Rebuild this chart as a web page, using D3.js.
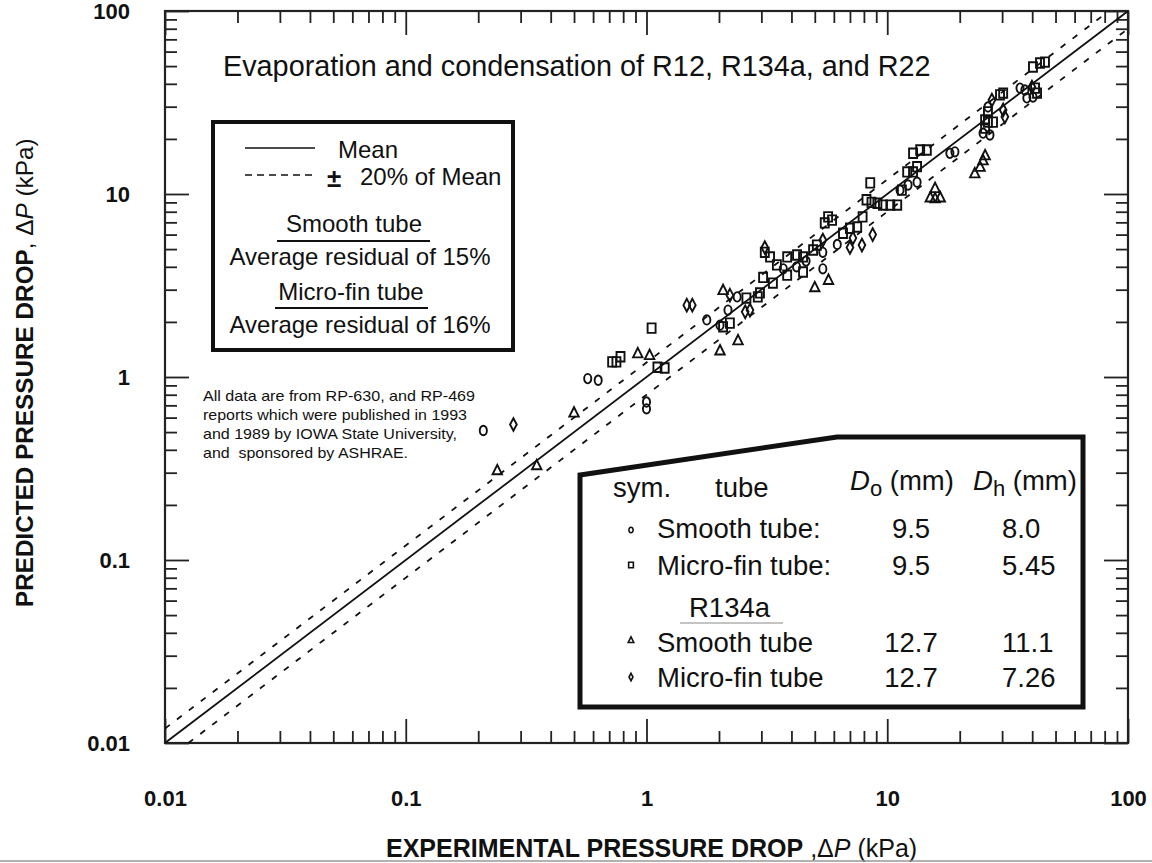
<!DOCTYPE html>
<html><head><meta charset="utf-8">
<script src="https://cdn.jsdelivr.net/npm/d3@7"></script>
<style>
body{margin:0;background:#fff}
text{font-family:"Liberation Sans",Arial,Helvetica,sans-serif;fill:#111}
</style>
</head><body>
<svg id="c" width="1152" height="863"></svg>
<script>
// ---------- data ----------
const decadeTicks = [0.01, 0.1, 1, 10, 100];
const tickLabels = ["0.01", "0.1", "1", "10", "100"];
const minorMultipliers = [2, 3, 4, 5, 6, 7, 8, 9];

// [experimental, predicted] in kPa
const smoothTube = [
  [0.21,0.51],[0.57,0.98],[0.63,0.96],[1.0,0.73],[1.0,0.67],[1.78,2.05],[2.02,1.92],
  [2.18,2.32],[2.38,2.74],[3.7,3.9],[4.2,4.0],[4.6,4.3],[5.4,4.8],[5.4,3.9],[6.2,5.3],
  [11.3,10.5],[12.2,11.2],[13.3,11.6],[18.2,16.7],[19.1,17.0],[26.2,29.9],[25,21.5],
  [26.7,21],[35.6,37.9],[37.3,37],[38,33.5],[40.3,33.9]
];
const microFinTube = [
  [0.72,1.21],[0.75,1.21],[0.78,1.29],[1.05,1.85],[1.11,1.13],[1.19,1.12],[2.08,1.88],
  [2.22,1.97],[2.6,2.7],[2.9,2.74],[2.96,2.88],[3.05,3.5],[3.35,3.26],[3.84,3.6],
  [3.1,4.8],[3.26,4.53],[3.48,4.1],[3.84,4.53],[4.22,4.64],[4.47,4.53],[4.47,3.75],
  [4.92,4.94],[5.1,5.26],[5.5,6.95],[5.68,7.5],[5.9,7.2],[6.55,6.1],[7.0,6.5],[7.5,6.6],
  [7.9,7.5],[8.2,9.3],[8.6,9.0],[9.1,8.9],[9.6,8.7],[10.3,8.7],[11.0,8.7],[8.5,11.5],
  [11.5,10.5],[12.1,13.2],[12.8,13.2],[13.3,14.1],[12.8,16.7],[13.7,17.4],[14.6,17.4],
  [25.5,25.4],[26.2,24.7],[27.5,24.7],[25.5,22.9],[26.2,28.1],[29.4,34.8],[30.3,35.6],
  [41.1,37.9],[41.9,35.6],[40.3,49.4],[43.1,52],[45.2,52.6]
];
const r134aSmooth = [
  [0.24,0.31],[0.35,0.33],[0.50,0.64],[0.92,1.35],[1.03,1.32],[2.08,2.99],[2.02,1.40],
  [2.40,1.59],[5.0,3.1],[5.7,3.4],[15.8,9.5],[15.8,10.8],[15.1,9.6],[16.6,9.6],
  [23.1,13.0],[24.3,14.1],[25,15.3],[25.5,16.3]
];
const r134aMicroFin = [
  [0.28,0.55],[1.47,2.47],[1.55,2.47],[2.22,2.8],[2.57,2.27],[2.69,2.32],[3.1,5.1],
  [5.4,5.6],[7.2,5.75],[7.0,5.1],[7.85,5.26],[8.7,6.0],[30.3,28.8],[30.8,26.4],
  [27.2,32.6],[39.9,38.4]
];
const meanLine = [[0.01,0.01],[100,100]];
const upperBand = [[0.01,0.012],[100/1.2,100]];
const lowerBand = [[0.0125,0.01],[100,80]];

// ---------- layout ----------
const svg = d3.select("#c");
const X0 = 165, X1 = 1128, Y0 = 743, Y1 = 11;
const x = d3.scaleLog().domain([0.01,100]).range([X0,X1]);
const y = d3.scaleLog().domain([0.01,100]).range([Y0,Y1]);
const ink = "#111";

const minorTicks = [];
decadeTicks.slice(0,-1).forEach(d => minorMultipliers.forEach(m => minorTicks.push(d*m)));

// frame
svg.append("rect").attr("x",X0).attr("y",Y1).attr("width",X1-X0).attr("height",Y0-Y1)
  .attr("fill","none").attr("stroke","#222").attr("stroke-width",2.2);

function tickAxis(gen, tr, vals, size){
  const g = svg.append("g").attr("transform",tr)
    .call(gen.tickValues(vals).tickSize(size).tickFormat(""));
  g.select(".domain").remove();
  g.selectAll("line").attr("stroke","#222").attr("stroke-width",1.8);
}
tickAxis(d3.axisTop(x), `translate(0,${Y0})`, minorTicks, 12);
tickAxis(d3.axisTop(x), `translate(0,${Y0})`, decadeTicks, 24);
tickAxis(d3.axisBottom(x), `translate(0,${Y1})`, minorTicks, 12);
tickAxis(d3.axisBottom(x), `translate(0,${Y1})`, decadeTicks, 24);
tickAxis(d3.axisRight(y), `translate(${X0},0)`, minorTicks, 12);
tickAxis(d3.axisRight(y), `translate(${X0},0)`, decadeTicks, 24);
tickAxis(d3.axisLeft(y), `translate(${X1},0)`, minorTicks, 12);
tickAxis(d3.axisLeft(y), `translate(${X1},0)`, decadeTicks, 24);

// tick labels
const fmt = d => tickLabels[decadeTicks.indexOf(d)];
const gxl = svg.append("g").attr("transform",`translate(0,${Y0})`)
  .call(d3.axisBottom(x).tickValues(decadeTicks).tickSize(0).tickPadding(47).tickFormat(fmt));
gxl.select(".domain").remove();
gxl.selectAll("text").attr("font-size",22).attr("font-weight","bold").attr("fill",ink)
  .attr("font-family","Liberation Sans, Arial, sans-serif");
const gyl = svg.append("g").attr("transform",`translate(${X0},0)`)
  .call(d3.axisLeft(y).tickValues(decadeTicks).tickSize(0).tickPadding(35).tickFormat(fmt));
gyl.select(".domain").remove();
gyl.selectAll("text").attr("font-size",22).attr("font-weight","bold").attr("fill",ink)
  .attr("font-family","Liberation Sans, Arial, sans-serif");

// clip
svg.append("clipPath").attr("id","pc").append("rect")
  .attr("x",X0).attr("y",Y1).attr("width",X1-X0).attr("height",Y0-Y1);
const plot = svg.append("g").attr("clip-path","url(#pc)");
const line = d3.line().x(d=>x(d[0])).y(d=>y(d[1]));
plot.append("path").attr("d",line(meanLine)).attr("stroke",ink).attr("stroke-width",1.8).attr("fill","none");
[upperBand,lowerBand].forEach(b=>plot.append("path").attr("d",line(b)).attr("stroke",ink)
  .attr("stroke-width",1.8).attr("stroke-dasharray","6,9").attr("fill","none"));

// markers
const mk = {
  circle:(cx,cy,s)=>`M${cx},${cy-4.5*s}A${3.4*s},${4.5*s} 0 1,1 ${cx},${cy+4.5*s}A${3.4*s},${4.5*s} 0 1,1 ${cx},${cy-4.5*s}Z`,
  square:(cx,cy,s)=>`M${cx-3.8*s},${cy-4.5*s}h${7.6*s}v${9*s}h${-7.6*s}Z`,
  triangle:(cx,cy,s)=>`M${cx},${cy-5*s}L${cx+4.5*s},${cy+4*s}L${cx-4.5*s},${cy+4*s}Z`,
  diamond:(cx,cy,s)=>`M${cx},${cy-6*s}L${cx+3.2*s},${cy}L${cx},${cy+6*s}L${cx-3.2*s},${cy}Z`
};
const series = [[smoothTube,"circle"],[microFinTube,"square"],[r134aSmooth,"triangle"],[r134aMicroFin,"diamond"]];
series.forEach(([data,shape])=>{
  plot.append("g").selectAll("path").data(data).join("path")
    .attr("d",d=>mk[shape](x(d[0]),y(d[1]),1.05))
    .attr("fill","none").attr("stroke",ink).attr("stroke-width",1.9);
});

// title
svg.append("text").attr("x",223).attr("y",76).attr("font-size",28.8)
  .text("Evaporation and condensation of R12, R134a, and R22");

// legend box 1
svg.append("rect").attr("x",213).attr("y",122).attr("width",300).attr("height",228)
  .attr("fill","#fff").attr("stroke",ink).attr("stroke-width",4);
svg.append("line").attr("x1",245).attr("x2",315).attr("y1",148).attr("y2",148)
  .attr("stroke",ink).attr("stroke-width",1.6);
svg.append("line").attr("x1",245).attr("x2",317).attr("y1",175).attr("y2",175)
  .attr("stroke",ink).attr("stroke-width",1.6).attr("stroke-dasharray","7,5");
const lf = 24;
svg.append("text").attr("x",338).attr("y",158).attr("font-size",lf).text("Mean");
svg.append("text").attr("x",327).attr("y",187).attr("font-size",lf+2).attr("font-weight","bold").text("±");
svg.append("text").attr("x",360).attr("y",185).attr("font-size",lf).text("20% of Mean");
svg.append("text").attr("x",354).attr("y",232).attr("font-size",lf).attr("text-anchor","middle").text("Smooth tube");
svg.append("line").attr("x1",277).attr("x2",430).attr("y1",241).attr("y2",241).attr("stroke",ink).attr("stroke-width",2.2);
svg.append("text").attr("x",360).attr("y",265).attr("font-size",lf).attr("text-anchor","middle").text("Average residual of 15%");
svg.append("text").attr("x",351).attr("y",300).attr("font-size",lf).attr("text-anchor","middle").text("Micro-fin tube");
svg.append("line").attr("x1",275).attr("x2",428).attr("y1",308).attr("y2",308).attr("stroke",ink).attr("stroke-width",2.2);
svg.append("text").attr("x",360).attr("y",333).attr("font-size",lf).attr("text-anchor","middle").text("Average residual of 16%");

// note
const noteLines = ["All data are from RP-630, and RP-469","reports which were published in 1993",
  "and 1989 by IOWA State University,","and  sponsored by ASHRAE."];
const noteWidths = [272,264,254,205];
noteLines.forEach((t,i)=>svg.append("text").attr("x",203).attr("y",401+i*19).attr("font-size",14.5)
  .attr("textLength",noteWidths[i]).attr("lengthAdjust","spacingAndGlyphs").style("white-space","pre").text(t));

// table box
svg.append("path").attr("d","M580,475L837,437L1083,437L1083,707L580,707Z")
  .attr("fill","#fff").attr("stroke",ink).attr("stroke-width",5).attr("stroke-linejoin","miter");
const tf = 27.5;
svg.append("text").attr("x",613).attr("y",497).attr("font-size",tf).text("sym.");
svg.append("text").attr("x",715).attr("y",497).attr("font-size",tf).text("tube");
[[850,"o"],[973,"h"]].forEach(([tx,sub])=>{
  const t = svg.append("text").attr("x",tx).attr("y",490).attr("font-size",tf);
  t.append("tspan").attr("font-style","italic").text("D");
  t.append("tspan").attr("dy",6).attr("font-size",22).text(sub);
  t.append("tspan").attr("dy",-6).text(" (mm)");
});
const tableRows = [
  ["circle","Smooth tube:","9.5","8.0",530,538],
  ["square","Micro-fin tube:","9.5","5.45",565,575],
  ["triangle","Smooth tube","12.7","11.1",640,652],
  ["diamond","Micro-fin tube","12.7","7.26",677,687]
];
tableRows.forEach(([shape,label,d0,dh,sy,by])=>{
  svg.append("path").attr("d",mk[shape](631,sy,0.62)).attr("fill","none").attr("stroke",ink).attr("stroke-width",1.6);
  svg.append("text").attr("x",657).attr("y",by).attr("font-size",tf).text(label);
  svg.append("text").attr("x",911).attr("y",by).attr("font-size",tf).attr("text-anchor","middle").text(d0);
  svg.append("text").attr("x",1002).attr("y",by).attr("font-size",tf).text(dh);
});
svg.append("text").attr("x",689).attr("y",617).attr("font-size",tf).text("R134a");
svg.append("line").attr("x1",680).attr("x2",783).attr("y1",623).attr("y2",623).attr("stroke","#888").attr("stroke-width",1);

// axis titles
const xt = svg.append("text").attr("x",386).attr("y",857).attr("font-size",25);
xt.append("tspan").attr("font-weight","bold").text("EXPERIMENTAL PRESSURE DROP");
xt.append("tspan").text(" ,");
xt.append("tspan").text("Δ");
xt.append("tspan").attr("font-style","italic").text("P");
xt.append("tspan").text(" (kPa)");

const yt = svg.append("text").attr("transform","translate(33,607) rotate(-90)").attr("font-size",24.3);
yt.append("tspan").attr("font-weight","bold").text("PREDICTED PRESSURE DROP");
yt.append("tspan").text(", Δ");
yt.append("tspan").attr("font-style","italic").text("P");
yt.append("tspan").text(" (kPa)");

// bottom rule
svg.append("line").attr("x1",0).attr("x2",1152).attr("y1",861).attr("y2",861).attr("stroke","#999").attr("stroke-width",1.5);
</script>
</body></html>
